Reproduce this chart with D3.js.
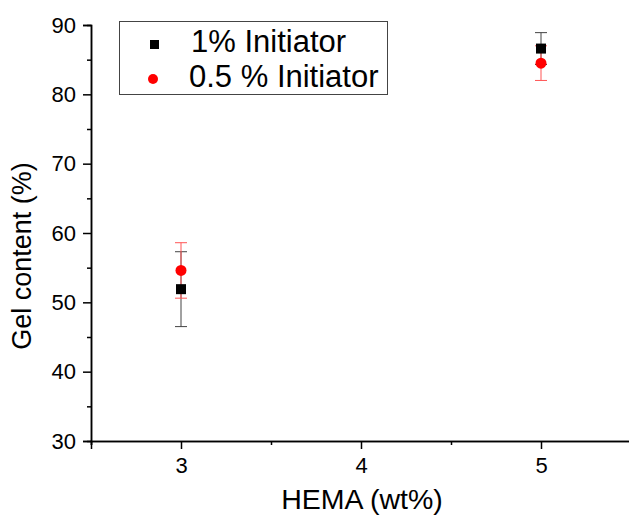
<!DOCTYPE html>
<html>
<head>
<meta charset="utf-8">
<script src="https://cdn.jsdelivr.net/npm/d3@7"></script>
<style>
  body { margin: 0; background: #fff; }
  text { font-family: "Liberation Sans", Arial, sans-serif; }
</style>
</head>
<body>
<div id="chart"></div>
<script>
// HEMA content (wt%)
const hema = [3, 5];
// 1% initiator
const gel1 = [51.9, 86.6];
const err1 = [5.4, 2.3];
// 0.5% initiator
const gel05 = [54.6, 84.5];
const err05 = [4.0, 2.5];

const seriesNames = ['1% Initiator', '0.5 % Initiator'];
const xTicks = [3, 4, 5];
const yTicks = [30, 40, 50, 60, 70, 80, 90];

let width = 629, height = 516;
let margin = { top: 25, right: -2, bottom: 75, left: 91 };

let svg = d3.select('#chart').append('svg')
    .attr('width', width)
    .attr('height', height);

let x = d3.scaleLinear()
    .domain([2.5, 5.5])
    .range([margin.left, width - margin.right]);

let y = d3.scaleLinear()
    .domain([30, 90])
    .range([height - margin.bottom, margin.top]);

// axes
let xAxis = d3.axisBottom(x).tickValues(xTicks).tickFormat(d3.format('d')).tickSize(8).tickPadding(8);
let xMinor = d3.axisBottom(x).tickValues([2.5, 3.5, 4.5]).tickFormat('').tickSize(4);
let yAxis = d3.axisLeft(y).tickValues(yTicks).tickSize(8).tickPadding(7);
let yMinor = d3.axisLeft(y).tickValues([35, 45, 55, 65, 75, 85]).tickFormat('').tickSize(4);

function styleAxis(g) {
    g.select('.domain').attr('stroke', '#000').attr('stroke-width', 1.5);
    g.selectAll('.tick line').attr('stroke', '#000').attr('stroke-width', 1.5);
    g.selectAll('.tick text').style('font-size', '22px').attr('fill', '#000');
}

svg.append('g').attr('transform', 'translate(0,' + y(30) + ')').call(xMinor).call(styleAxis);
svg.append('g').attr('transform', 'translate(0,' + y(30) + ')').call(xAxis).call(styleAxis);
svg.append('g').attr('transform', 'translate(' + x(2.5) + ',0)').call(yMinor).call(styleAxis);
svg.append('g').attr('transform', 'translate(' + x(2.5) + ',0)').call(yAxis).call(styleAxis);

// axis titles
svg.append('text')
    .attr('x', x(4) + 1)
    .attr('y', 509)
    .attr('text-anchor', 'middle')
    .style('font-size', '28.5px')
    .text('HEMA (wt%)');

svg.append('text')
    .attr('transform', 'translate(31,256) rotate(-90)')
    .attr('text-anchor', 'middle')
    .style('font-size', '27px')
    .text('Gel content (%)');

// error bars
function errorBars(vals, errs, color) {
    let g = svg.append('g');
    hema.forEach(function(h, i) {
        let cx = x(h);
        g.append('line')
            .attr('x1', cx).attr('x2', cx)
            .attr('y1', y(vals[i] - errs[i])).attr('y2', y(vals[i] + errs[i]))
            .attr('stroke', color).attr('stroke-width', 1);
        [vals[i] - errs[i], vals[i] + errs[i]].forEach(function(v) {
            g.append('line')
                .attr('x1', cx - 6).attr('x2', cx + 6)
                .attr('y1', y(v)).attr('y2', y(v))
                .attr('stroke', color).attr('stroke-width', 1);
        });
    });
}

errorBars(gel1, err1, '#444');
errorBars(gel05, err05, '#f55');

// markers
svg.append('g').selectAll('rect')
    .data(hema)
    .enter()
    .append('rect')
    .attr('x', function(d) { return x(d) - 5; })
    .attr('y', function(d, i) { return y(gel1[i]) - 5; })
    .attr('width', 10)
    .attr('height', 10)
    .attr('fill', '#000');

svg.append('g').selectAll('circle')
    .data(hema)
    .enter()
    .append('circle')
    .attr('cx', function(d) { return x(d); })
    .attr('cy', function(d, i) { return y(gel05[i]); })
    .attr('r', 5.5)
    .attr('fill', '#f00');

// legend
let legend = svg.append('g');
legend.append('rect')
    .attr('x', 119.5).attr('y', 21.5)
    .attr('width', 268).attr('height', 73)
    .attr('fill', '#fff')
    .attr('stroke', '#444')
    .attr('stroke-width', 1);

legend.append('rect')
    .attr('x', 150).attr('y', 40)
    .attr('width', 9).attr('height', 9)
    .attr('fill', '#000');
legend.append('circle')
    .attr('cx', 153).attr('cy', 79)
    .attr('r', 5)
    .attr('fill', '#f00');

legend.selectAll('.legend-label')
    .data(seriesNames)
    .enter()
    .append('text')
    .attr('class', 'legend-label')
    .attr('x', function(d, i) { return i === 0 ? 191 : 189; })
    .attr('y', function(d, i) { return 52 + i * 35; })
    .style('font-size', '31px')
    .text(function(d) { return d; });
</script>
</body>
</html>
